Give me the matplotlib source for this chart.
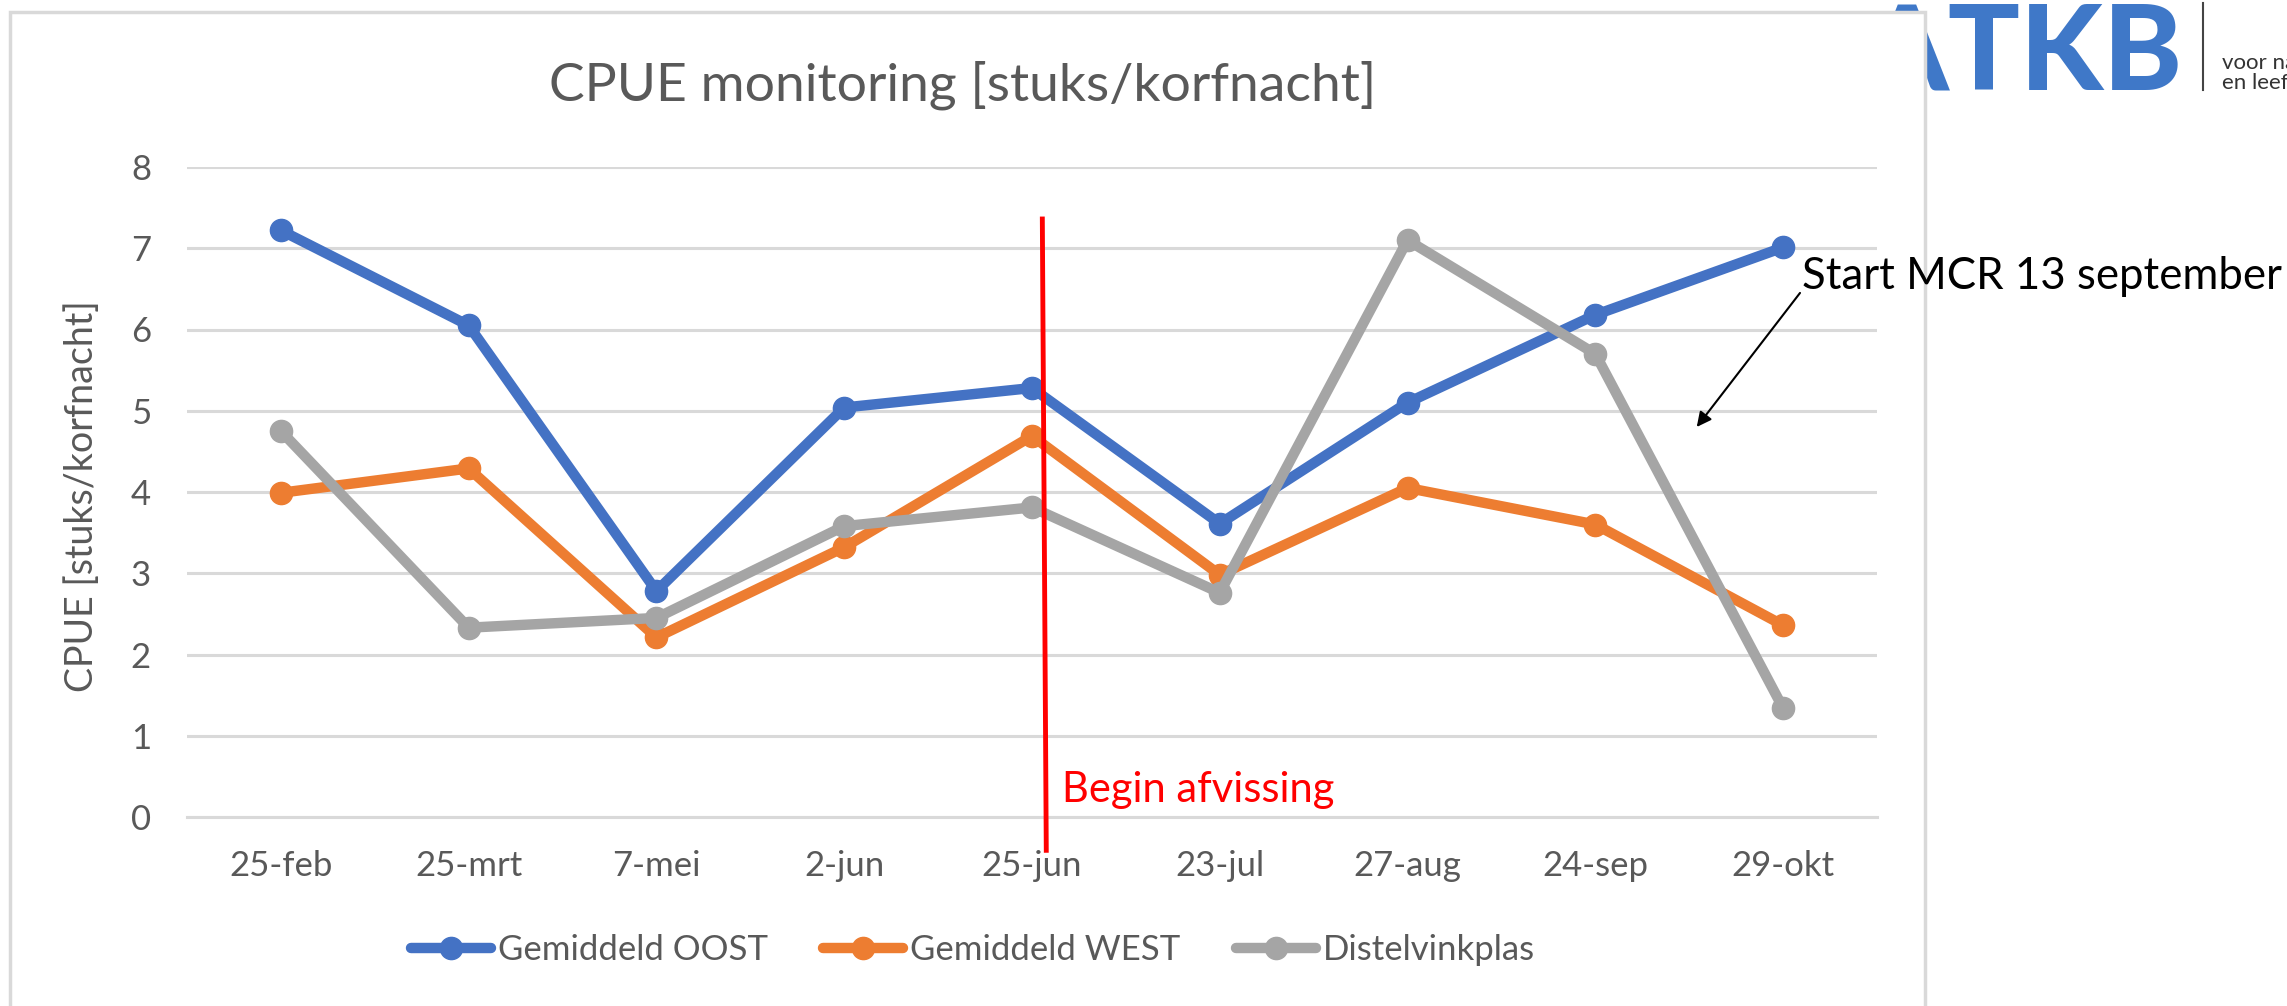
import matplotlib
matplotlib.use("Agg")
import matplotlib.pyplot as plt
from matplotlib.patches import Rectangle
from matplotlib.lines import Line2D

# ---- data ----
categories = ['25-feb', '25-mrt', '7-mei', '2-jun', '25-jun', '23-jul', '27-aug', '24-sep', '29-okt']
oost = [7.22, 6.05, 2.78, 5.04, 5.28, 3.61, 5.10, 6.18, 7.01]
west = [3.99, 4.29, 2.21, 3.32, 4.69, 2.98, 4.05, 3.60, 2.36]
distel = [4.75, 2.33, 2.45, 3.58, 3.81, 2.76, 7.10, 5.70, 1.34]
series_names = ['Gemiddeld OOST', 'Gemiddeld WEST', 'Distelvinkplas']
yticks = [0, 1, 2, 3, 4, 5, 6, 7, 8]

# annotation positions (data coords)
red_x = [4.055, 4.076]
red_y = [7.36, -0.41]
mcr_text_xy = (8.10, 6.65)
mcr_arrow_from = (8.09, 6.45)
mcr_arrow_to = (7.54, 4.80)

colors = ['#4472C4', '#ED7D31', '#A5A5A5']
W, H = 2287, 1006
plt.rcParams['font.family'] = ['Lato', 'DejaVu Sans']

fig = plt.figure(figsize=(W / 100, H / 100), dpi=100)
fig.patch.set_facecolor('white')

# logo (partly hidden behind the chart box)
fig.text(2182 / W, 1 - 2 / H, 'ATKB', fontsize=86, fontweight='black',
         color='#3F78C8', ha='right', va='top', zorder=-2)
fig.add_artist(Line2D([2203 / W, 2203 / W], [1 - 3 / H, 1 - 90 / H],
                      transform=fig.transFigure, color='#444444', lw=1.5))
fig.text(2222 / W, 1 - 63 / H, 'voor natuur', fontsize=16, color='#333333',
         ha='left', va='center')
fig.text(2222 / W, 1 - 83 / H, 'en leefomgeving', fontsize=16, color='#333333',
         ha='left', va='center')

# chart box (screenshot frame)
box = Rectangle((10 / W, -0.05), (1925 - 10) / W, 1.05 - 12 / H,
                transform=fig.transFigure, facecolor='white',
                edgecolor='#D9D9D9', lw=2.5, zorder=-1)
fig.add_artist(box)

ax = fig.add_axes([187 / W, 1 - 817 / H, (1877 - 187) / W, (817 - 167) / H])
ax.set_facecolor('none')
x = list(range(len(categories)))
for vals, c, n in zip([oost, west, distel], colors, series_names):
    ax.plot(x, vals, color=c, lw=7.5, marker='o', markersize=16, label=n,
            solid_capstyle='round', solid_joinstyle='round')

ax.set_xlim(-0.5, len(categories) - 0.5)
ax.set_ylim(0, 8)
ax.set_yticks(yticks)
ax.set_xticks(x)
ax.set_xticklabels(categories)
ax.grid(axis='y', color='#D9D9D9', lw=2.2)
ax.set_axisbelow(True)
for s in ['top', 'right', 'left']:
    ax.spines[s].set_visible(False)
ax.spines['bottom'].set_color('#D9D9D9')
ax.spines['bottom'].set_linewidth(2.2)
ax.tick_params(axis='both', length=0, labelsize=25, labelcolor='#595959')
ax.tick_params(axis='y', pad=26)
ax.tick_params(axis='x', pad=24)
ax.set_ylabel('CPUE [stuks/korfnacht]', fontsize=27, color='#595959',
              va='center')
ax.yaxis.set_label_coords((82 - 187) / 1690, 0.494)

# red line + text
ax.plot(red_x, red_y, color='#FF0000', lw=3.5, clip_on=False, zorder=5)
ax.text(4.16, 0.33, 'Begin afvissing', color='#FF0000', fontsize=30,
        ha='left', va='center')

# MCR annotation
ax.text(mcr_text_xy[0], mcr_text_xy[1], 'Start MCR 13 september', fontsize=31.5,
        color='black', ha='left', va='center', clip_on=False, zorder=6)
ax.annotate('', xy=mcr_arrow_to, xytext=mcr_arrow_from,
            arrowprops=dict(arrowstyle='-|>', color='black', lw=1.5,
                            mutation_scale=22, shrinkA=0, shrinkB=0),
            annotation_clip=False)

# title
fig.text(963 / W, 1 - 85 / H, 'CPUE monitoring [stuks/korfnacht]', fontsize=38.5,
         color='#595959', ha='center', va='center')

# legend
handles = [Line2D([0], [0], color=c, lw=7.5, marker='o', markersize=16,
                  solid_capstyle='round') for c in colors]
fig.legend(handles, series_names, loc='center', bbox_to_anchor=(973 / W, 1 - 950 / H),
           ncol=3, frameon=False, fontsize=25, labelcolor='#595959',
           handlelength=2.3, handletextpad=0.2, columnspacing=1.6, numpoints=1)

fig.savefig('out.png', dpi=100)
